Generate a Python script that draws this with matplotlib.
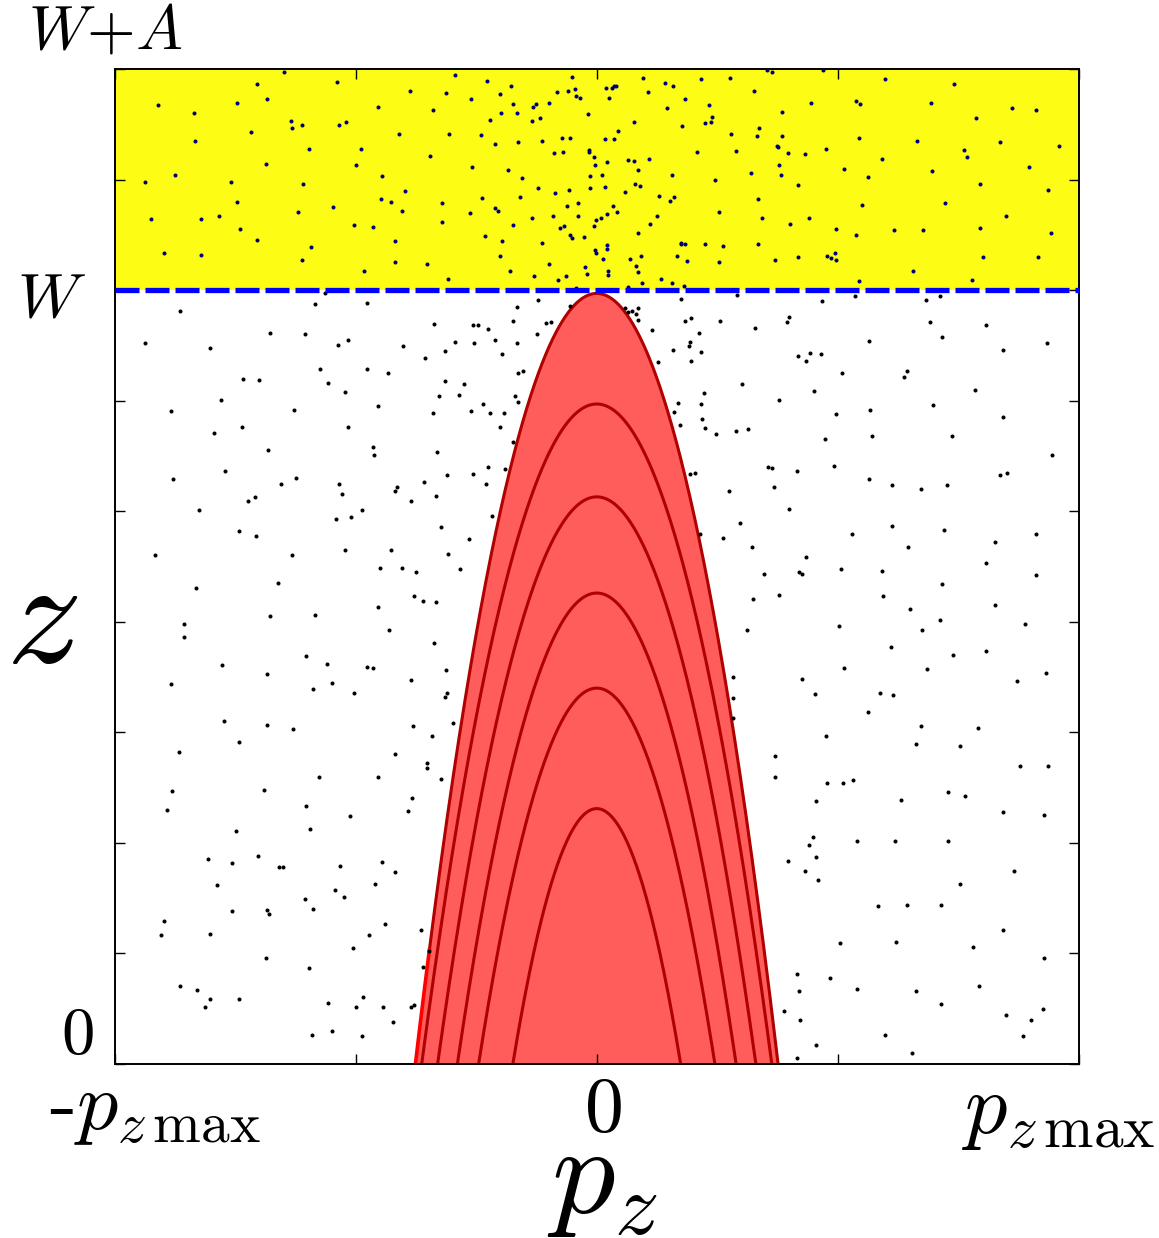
import numpy as np
import matplotlib.pyplot as plt

plt.rcParams['mathtext.fontset'] = 'cm'
plt.rcParams['lines.scale_dashes'] = False

W = 7.0      # z of the barrier
A = 2.0      # height of the yellow band above W

# nested parabolic trajectories: apex z and half width at z = 0 (units of p_zmax)
apex_z = [2.31, 3.40, 4.26, 5.13, 5.97, 6.97]
half_width = [0.174, 0.245, 0.289, 0.330, 0.363, 0.376]
z_bright = 1.03  # left edge of the outer curve is bright red below this

# particles inside the yellow band (p_z / p_zmax, z)
p_upper = [
    -0.649, -0.705, -0.539, -0.387, -0.910, -0.836, -0.745, -0.683, -0.453, -0.339,
    -0.633, -0.611, -0.631, -0.535, -0.520, -0.716, -0.833, -0.410, -0.597, -0.488,
    -0.345, -0.685, -0.500, -0.875, -0.937, -0.759, -0.609, -0.446, -0.398, -0.745,
    -0.448, -0.426, -0.546, -0.620, -0.403, -0.925, -0.821, -0.784, -0.740, -0.504,
    -0.465, -0.705, -0.419, -0.898, -0.821, -0.593, -0.611, -0.419, -0.351, -0.483,
    -0.294, -0.227, -0.177, -0.051, -0.313, -0.260, -0.201, -0.083, -0.060, -0.045,
    -0.044, -0.035, 0.019, 0.032, 0.036, 0.040, 0.026, 0.096, 0.141, 0.159,
    0.106, 0.216, 0.276, 0.326, 0.183, -0.173, -0.132, -0.126, -0.098, -0.199,
    -0.165, -0.221, -0.134, -0.117, -0.018, 0.077, 0.146, 0.232, 0.239, 0.237,
    0.224, 0.176, 0.337, -0.307, -0.241, -0.211, -0.164, -0.114, -0.073, -0.055,
    0.017, 0.035, 0.044, 0.278, 0.332, -0.089, -0.071, -0.016, -0.016, -0.006,
    -0.004, 0.021, 0.065, 0.077, 0.108, 0.085, 0.207, 0.289, -0.259, -0.184,
    -0.154, -0.014, 0.011, 0.157, 0.245, 0.320, 0.079, 0.090, -0.121, -0.087,
    -0.058, -0.013, 0.018, 0.058, -0.321, -0.237, -0.159, -0.211, -0.205, -0.062,
    -0.039, 0.033, 0.042, 0.130, 0.151, 0.161, 0.335, -0.320, -0.262, -0.134,
    -0.091, -0.039, -0.002, -0.005, 0.009, 0.021, 0.124, 0.254, -0.173, -0.076,
    -0.067, 0.110, -0.232, -0.055, -0.051, -0.027, 0.085, -0.197, -0.114, 0.021,
    -0.004, -0.002, 0.022, 0.175, 0.174, 0.184, 0.224, 0.262, 0.335, -0.201,
    -0.099, 0.013, 0.068, 0.091, 0.082, 0.166, 0.188, 0.254, -0.179, -0.130,
    -0.080, -0.064, -0.025, -0.020, 0.023, 0.024, 0.086, 0.094, 0.134, 0.157,
    0.181, -0.308, -0.043, 0.065,
    0.363, 0.352, 0.470, 0.598, 0.740, 0.444, 0.538, 0.546, 0.693, 0.861,
    0.911, 0.384, 0.787, 0.385, 0.543, 0.664, 0.836, 0.959, 0.374, 0.376,
    0.396, 0.432, 0.475, 0.762, 0.768, 0.591, 0.378, 0.382, 0.513, 0.562,
    0.695, 0.896, 0.417, 0.795, 0.935, 0.551, 0.722, 0.343, 0.401, 0.440,
    0.496, 0.538, 0.616, 0.676, 0.795, 0.849, 0.942, 0.370, 0.417, 0.477,
    0.486, 0.494, 0.496, 0.800, 0.915, 0.656, 0.544, 0.779,
]
z_upper = [
    8.97, 8.86, 8.88, 8.80, 8.67, 8.60, 8.69, 8.73, 8.66, 8.63,
    8.53, 8.49, 8.47, 8.49, 8.52, 8.43, 8.35, 8.41, 8.28, 8.28,
    8.21, 8.14, 8.13, 8.04, 7.98, 7.98, 7.96, 8.03, 7.90, 7.80,
    7.82, 7.80, 7.75, 7.71, 7.72, 7.64, 7.64, 7.67, 7.55, 7.59,
    7.57, 7.45, 7.44, 7.34, 7.32, 7.39, 7.27, 7.25, 7.24, 7.17,
    8.95, 8.89, 8.85, 8.93, 8.78, 8.73, 8.77, 8.79, 8.80, 8.82,
    8.76, 8.74, 8.83, 8.83, 8.85, 8.85, 8.74, 8.92, 8.87, 8.85,
    8.79, 8.91, 8.92, 8.80, 8.73, 8.68, 8.66, 8.68, 8.69, 8.60,
    8.60, 8.54, 8.53, 8.56, 8.59, 8.52, 8.65, 8.67, 8.57, 8.52,
    8.51, 8.48, 8.47, 8.41, 8.40, 8.32, 8.34, 8.35, 8.38, 8.38,
    8.37, 8.37, 8.44, 8.41, 8.39, 8.24, 8.25, 8.27, 8.25, 8.20,
    8.13, 8.16, 8.18, 8.17, 8.19, 8.09, 8.25, 8.26, 8.11, 8.09,
    8.01, 8.03, 8.04, 8.04, 8.00, 8.06, 7.96, 7.94, 7.92, 7.88,
    7.91, 7.92, 7.93, 7.89, 7.79, 7.83, 7.84, 7.74, 7.72, 7.76,
    7.79, 7.76, 7.71, 7.85, 7.81, 7.84, 7.82, 7.62, 7.70, 7.65,
    7.67, 7.67, 7.63, 7.58, 7.65, 7.69, 7.67, 7.71, 7.59, 7.56,
    7.58, 7.60, 7.49, 7.50, 7.47, 7.48, 7.52, 7.44, 7.43, 7.41,
    7.36, 7.34, 7.37, 7.43, 7.42, 7.42, 7.42, 7.40, 7.42, 7.31,
    7.24, 7.28, 7.28, 7.31, 7.22, 7.31, 7.26, 7.25, 7.17, 7.13,
    7.09, 7.13, 7.21, 7.15, 7.17, 7.14, 7.16, 7.06, 7.10, 7.06,
    7.04, 7.10, 7.02, 7.03,
    8.97, 8.99, 8.99, 8.91, 8.86, 8.69, 8.71, 8.68, 8.69, 8.65,
    8.63, 8.61, 8.56, 8.39, 8.38, 8.35, 8.34, 8.30, 8.30, 8.29,
    8.24, 8.23, 8.28, 8.27, 8.20, 8.19, 8.13, 8.04, 8.10, 8.02,
    8.08, 8.11, 7.95, 7.96, 7.91, 7.77, 7.79, 7.65, 7.60, 7.65,
    7.55, 7.50, 7.54, 7.54, 7.56, 7.67, 7.52, 7.27, 7.30, 7.31,
    7.29, 7.34, 7.27, 7.30, 7.30, 7.17, 7.08, 7.09,
]

# particles below W
p_lower = [
    -0.564, -0.584, -0.477, -0.864, -0.937, -0.802, -0.678, -0.604, -0.536, -0.515,
    -0.401, -0.338, -0.356, -0.574, -0.477, -0.432, -0.734, -0.701, -0.557, -0.522,
    -0.779, -0.327,
    0.291, 0.175, -0.121, -0.166, -0.056, 0.058, 0.065, 0.074, 0.086, 0.081,
    0.086, -0.256, -0.246, -0.225, -0.174, -0.105, -0.095, 0.183, 0.195, 0.255,
    0.329, 0.115, -0.123, 0.213, -0.293, -0.254, -0.212, -0.165, 0.193, 0.191,
    -0.315, -0.196, 0.158, 0.216, 0.128, 0.195, -0.164, -0.153, -0.315, -0.275,
    0.302, -0.285, -0.170, 0.222,
    0.468, 0.536, 0.682, 0.712, 0.394, 0.398, 0.692, 0.807, 0.564, 0.716,
    0.417, 0.434, 0.442, 0.464, 0.842, 0.934, 0.509, 0.638, 0.644, 0.450,
    0.784, 0.377,
    -0.882, -0.628, -0.454, -0.340, -0.794, -0.736, -0.516, -0.681, -0.464, -0.461,
    -0.332, -0.879, -0.770, -0.654, -0.624, -0.535, -0.528, -0.418, -0.414, -0.359,
    -0.334, -0.385, -0.723, -0.708, -0.825, -0.486, -0.541, -0.510, -0.741, -0.707,
    -0.917, -0.631, -0.523, -0.427, -0.449, -0.403, -0.375, -0.831, -0.661, -0.378,
    -0.361, -0.334, -0.454, -0.856, -0.856, -0.678, -0.585, -0.430, -0.338, -0.602,
    -0.778, -0.683, -0.560, -0.477, -0.463, -0.883, -0.589, -0.549, -0.503, -0.385,
    -0.773, -0.684, -0.629, -0.381,
    -0.163, -0.236, -0.261, -0.222, -0.192, -0.200, -0.174, -0.311, -0.257, -0.226,
    -0.191, -0.230, -0.218, -0.322, -0.264, -0.309, -0.284, -0.312, -0.310, -0.315,
    -0.299, 0.168, 0.216, 0.161, 0.173, 0.219, 0.224, 0.247, 0.288, 0.314,
    0.194, 0.204, 0.275, 0.297, 0.214, 0.261, 0.321, 0.325, 0.312, 0.282,
    0.282, 0.282,
    0.497, 0.567, 0.697, 0.843, 0.473, 0.571, 0.737, 0.943, 0.355, 0.363,
    0.415, 0.492, 0.367, 0.564, 0.612, 0.672, 0.726, 0.836, 0.850, 0.399,
    0.529, 0.612, 0.720, 0.911, 0.826, 0.645, 0.434, 0.346, 0.419, 0.425,
    0.506, 0.591, 0.807, 0.911, 0.716, 0.378, 0.593, 0.650, 0.826, 0.711,
    0.502, 0.674, 0.888, 0.610, 0.738, 0.807, 0.512, 0.684, 0.426, 0.872,
    0.931, 0.452, 0.587, 0.614, 0.562, 0.672, 0.791,
    -0.342, -0.742, -0.866, -0.418, -0.352, -0.352, -0.576, -0.454, -0.881, -0.690,
    -0.891, -0.603, -0.383, -0.391, -0.512, -0.748, -0.595, -0.807, -0.757, -0.703,
    -0.658, -0.650, -0.533, -0.446, -0.418, -0.788, -0.543, -0.524, -0.459, -0.606,
    -0.588, -0.757, -0.683, -0.679, -0.897, -0.903, -0.801, -0.439, -0.472, -0.364,
    -0.505, -0.348, -0.685, -0.360, -0.596, -0.864, -0.829, -0.801, -0.812, -0.742,
    -0.557, -0.499, -0.484, -0.444, -0.385, -0.378, -0.422, -0.590, -0.549, -0.486,
    -0.322,
    0.475, 0.663, 0.753, 0.370, 0.370, 0.877, 0.935, 0.477, 0.511, 0.531,
    0.454, 0.630, 0.728, 0.764, 0.842, 0.927, 0.449, 0.441, 0.540, 0.618,
    0.729, 0.397, 0.455, 0.432, 0.459, 0.753, 0.865, 0.584, 0.643, 0.714,
    0.842, 0.504, 0.620, 0.781, 0.927, 0.415, 0.484, 0.419, 0.539, 0.661,
    0.792, 0.714, 0.388, 0.421, 0.849, 0.900, 0.925, 0.597, 0.883, 0.454,
    0.654, 0.415,
]
z_lower = [
    6.97, 6.87, 6.88, 6.81, 6.52, 6.48, 6.61, 6.60, 6.50, 6.55,
    6.49, 6.69, 6.39, 6.29, 6.29, 6.25, 6.20, 6.19, 6.16, 6.08,
    6.01, 6.04,
    6.96, 6.92, 6.91, 6.85, 6.86, 6.84, 6.80, 6.81, 6.84, 6.78,
    6.73, 6.68, 6.68, 6.65, 6.72, 6.70, 6.71, 6.72, 6.75, 6.72,
    6.66, 6.64, 6.60, 6.61, 6.53, 6.52, 6.55, 6.52, 6.53, 6.49,
    6.45, 6.42, 6.46, 6.44, 6.35, 6.36, 6.25, 6.27, 6.18, 6.15,
    6.15, 6.05, 6.04, 6.07,
    6.90, 6.95, 6.91, 6.95, 6.71, 6.76, 6.71, 6.68, 6.54, 6.58,
    6.40, 6.36, 6.43, 6.42, 6.46, 6.52, 6.25, 6.21, 6.27, 6.09,
    6.10, 6.01,
    5.91, 5.92, 5.95, 5.89, 5.71, 5.76, 5.76, 5.55, 5.58, 5.51,
    5.54, 5.29, 5.36, 5.25, 5.30, 5.25, 5.16, 5.18, 5.22, 5.26,
    5.14, 5.09, 5.09, 5.13, 5.01, 5.01, 4.93, 4.95, 4.82, 4.78,
    4.60, 4.60, 4.65, 4.65, 4.49, 4.49, 4.45, 4.31, 4.35, 4.23,
    4.19, 4.18, 4.13, 3.98, 3.86, 4.05, 4.06, 3.93, 3.81, 3.69,
    3.61, 3.53, 3.62, 3.59, 3.58, 3.44, 3.39, 3.45, 3.36, 3.47,
    3.10, 3.07, 3.03, 3.06,
    5.99, 5.97, 5.91, 5.89, 5.89, 5.76, 5.63, 5.33, 5.34, 5.40,
    5.38, 5.25, 4.96, 4.86, 4.75, 4.61, 4.48, 3.56, 3.36, 3.32,
    3.08, 5.98, 5.97, 5.90, 5.78, 5.83, 5.75, 5.70, 5.73, 5.74,
    5.34, 5.35, 5.18, 4.89, 4.79, 4.76, 4.68, 4.21, 3.93, 3.50,
    3.31, 3.13,
    5.88, 5.92, 5.96, 5.85, 5.65, 5.68, 5.68, 5.51, 5.40, 5.39,
    5.36, 5.41, 5.22, 5.29, 5.24, 5.20, 5.24, 5.33, 5.35, 5.02,
    4.79, 4.87, 4.83, 4.79, 4.72, 4.68, 4.59, 4.43, 4.45, 4.43,
    4.48, 4.46, 4.53, 4.42, 4.34, 4.24, 4.23, 4.12, 4.15, 4.02,
    3.96, 3.93, 3.98, 3.77, 3.70, 3.74, 3.58, 3.57, 3.48, 3.46,
    3.54, 3.35, 3.36, 3.34, 3.18, 3.06, 3.04,
    2.97, 2.91, 2.82, 2.80, 2.72, 2.68, 2.60, 2.60, 2.47, 2.48,
    2.30, 2.33, 2.41, 2.29, 2.24, 2.11, 2.13, 1.85, 1.82, 1.88,
    1.78, 1.78, 1.79, 1.83, 1.74, 1.62, 1.57, 1.51, 1.63, 1.49,
    1.40, 1.38, 1.39, 1.36, 1.29, 1.17, 1.18, 1.27, 1.17, 1.21,
    1.05, 1.02, 0.96, 0.88, 0.87, 0.71, 0.67, 0.59, 0.52, 0.59,
    0.55, 0.52, 0.61, 0.52, 0.52, 0.53, 0.38, 0.26, 0.30, 0.25,
    2.58,
    2.97, 2.89, 2.88, 2.79, 2.60, 2.70, 2.70, 2.54, 2.54, 2.57,
    2.38, 2.39, 2.46, 2.42, 2.28, 2.25, 2.05, 1.98, 2.02, 2.02,
    2.02, 1.84, 1.87, 1.75, 1.66, 1.63, 1.75, 1.43, 1.44, 1.44,
    1.21, 1.09, 1.10, 1.06, 0.96, 0.81, 0.78, 0.66, 0.68, 0.66,
    0.71, 0.54, 0.48, 0.40, 0.44, 0.40, 0.50, 0.26, 0.25, 0.17,
    0.10, 0.05,
]

FW, FH = 1159, 1238
fig = plt.figure(figsize=(FW / 100, FH / 100), dpi=100)
ax = fig.add_axes([114.5 / FW, 1 - 1064 / FH, (1079 - 114.5) / FW, (1064 - 69) / FH])
ax.set_xlim(-1, 1)
ax.set_ylim(0, W + A)

# yellow band above the barrier
ax.axhspan(W, W + A, color='#fcfc14', lw=0, zorder=0)

# filled region under the outer trajectory
a_out, w_out = apex_z[-1], half_width[-1]
p = np.linspace(-w_out, w_out, 600)
ax.fill_between(p, 0, a_out * (1 - (p / w_out) ** 2), color='#ff5c5c', lw=0, zorder=1)

for a, w in zip(apex_z[:-1], half_width[:-1]):
    p = np.linspace(-w, w, 600)
    ax.plot(p, a * (1 - (p / w) ** 2), color='#b00000', lw=2.2, zorder=2)

# outer curve: dark red except the lowest part of the left branch
p_cut = -w_out * np.sqrt(1 - z_bright / a_out)
p = np.linspace(p_cut, w_out, 600)
ax.plot(p, a_out * (1 - (p / w_out) ** 2), color='#b00000', lw=2.2, zorder=2)
p = np.linspace(-w_out, p_cut, 50)
ax.plot(p, a_out * (1 - (p / w_out) ** 2), color='#ff0000', lw=2.6, zorder=2)

# particles
ax.plot(p_lower, z_lower, 'o', color='k', ms=2.9, mew=0, zorder=3)
ax.plot(p_upper, z_upper, 'o', color='#000070', ms=2.9, mew=0, zorder=3)

# barrier line
ax.plot([-1, 1], [W, W], color='#0000ff', lw=3.8, ls=(0, (17.3, 4.3)), zorder=4)

ax.set_xticks([-1, -0.5, 0, 0.5, 1])
ax.set_yticks(np.arange(0, W + A + 1))
ax.set_xticklabels([])
ax.set_yticklabels([])
ax.tick_params(direction='in', length=7, width=1, top=True, right=True)
for s in ax.spines.values():
    s.set_linewidth(1.4)


def fx(x):
    return x / FW


def fy(y):
    return 1 - y / FH


# tick labels
fig.text(fx(105), fy(48), r'$W{+}A$', fontsize=45, ha='center', va='baseline')
fig.text(fx(51), fy(317), r'$W$', fontsize=46, ha='center', va='baseline')
fig.text(fx(77), fy(1054), r'$0$', fontsize=48, ha='center', va='baseline')
fig.text(fx(155), fy(1110), r'-$p_{z\,\mathrm{max}}$', fontsize=59, ha='center', va='center',
         family='cmr10')
fig.text(fx(603), fy(1131), r'$0$', fontsize=56, ha='center', va='baseline')
fig.text(fx(1059), fy(1110), r'$p_{z\,\mathrm{max}}$', fontsize=61, ha='center', va='center')

# axis labels
fig.text(fx(603), fy(1213), r'$p_z$', fontsize=91, ha='center', va='baseline')
fig.text(fx(42), fy(620), r'$z$', fontsize=108, ha='center', va='center')

fig.savefig('out.png', dpi=100)
